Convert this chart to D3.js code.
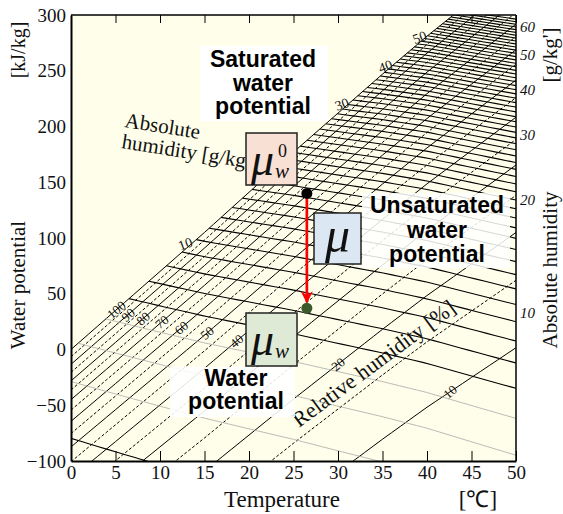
<!DOCTYPE html>
<html>
<head>
<meta charset="utf-8">
<script src="https://cdn.jsdelivr.net/npm/d3@7"></script>
<style>
  body { margin: 0; background: #fff; }
  svg { font-family: "Liberation Serif", "Times New Roman", serif; }
  text { font-family: "Liberation Serif", "Times New Roman", serif; fill: #111; }
  .big { font-family: "Liberation Sans", Arial, sans-serif; font-weight: bold; font-size: 23px; fill: #000; }
</style>
</head>
<body>
<div id="chart"></div>
<script>
// axis ticks
const tempTicks = [0, 5, 10, 15, 20, 25, 30, 35, 40, 45, 50];
const potTicks = [-100, -50, 0, 50, 100, 150, 200, 250, 300];
const rightTicks = [10, 20, 30, 40, 50, 60];

// saturation (100%) curve: temperature [C] -> water potential [kJ/kg]
const satTemps = [0, 5, 10, 15, 20, 25, 30, 35, 40, 45, 50];
const satPots = [0, 35, 70, 105, 141, 177, 212, 247, 281, 313, 345];

// relative humidity lines [%]
const rhLevels = [100, 95, 90, 85, 80, 75, 70, 65, 60, 55, 50, 45, 40, 35, 30, 25, 20, 15, 10];
const rhLabelVals = [100, 90, 80, 70, 60, 50, 40, 20, 10];
const rhLabelTemps = [5.1, 6.4, 8.1, 10.2, 12.4, 15.3, 18.6, 30, 42.6];

// absolute humidity lines [g/kg]
const ahLevels = [2, 3, 4, 5, 6, 7, 8, 9, 10, 11, 12, 13, 14, 15, 16, 17, 18, 19, 20,
  21, 22, 23, 24, 25, 26, 27, 28, 29, 30, 31, 32, 33, 34, 35, 36, 37, 38, 39, 40,
  41, 42, 43, 44, 45, 46, 47, 48, 49, 50, 51, 52, 53, 54, 55, 56, 57, 58, 59, 60];
const ahGrey = [3, 4, 5];
const ahLabelVals = [10, 20, 30, 40, 50];

// the two states marked on the chart
const stateTemps = [26.5, 26.5];
const statePots = [140, 37];

let margin = {top: 15, right: 47, bottom: 53, left: 71},
  width = 563 - margin.left - margin.right,
  height = 514 - margin.top - margin.bottom;

var svg = d3.select("#chart").append("svg")
  .attr("width", 563)
  .attr("height", 514);

var x = d3.scaleLinear().domain([0, 50]).range([margin.left, margin.left + width]);
var y = d3.scaleLinear().domain([-100, 300]).range([margin.top + height, margin.top]);

// psychrometrics used to lay the iso-lines into the chart's coordinates
var satPot = d3.scaleLinear().domain(satTemps).range(satPots);
function psat(t) { return 0.61094 * Math.exp(17.625 * t / (t + 243.04)); }
function pvOf(g) { var w = g / 1000; return w * 101.325 / (0.622 + w); }
function dewT(g) { var a = Math.log(pvOf(g) / 0.61094); return 243.04 * a / (17.625 - a); }
function pot(t, pv) { return satPot(t) + 0.4615 * (t + 273.15) * Math.log(pv / psat(t)); }
function rhPot(t, r) { return satPot(t) + 0.4615 * (t + 273.15) * Math.log(r / 100); }

var line = d3.line().x(d => x(d[0])).y(d => y(d[1]));

var defs = svg.append("defs");
defs.append("clipPath").attr("id", "clip")
  .append("rect")
  .attr("x", margin.left).attr("y", margin.top)
  .attr("width", width).attr("height", height);

svg.append("rect")
  .attr("x", margin.left).attr("y", margin.top)
  .attr("width", width).attr("height", height)
  .attr("fill", "#fffeea");

var plot = svg.append("g").attr("clip-path", "url(#clip)");

// RH lines
plot.selectAll(".rh")
  .data(rhLevels).enter()
  .append("path")
  .attr("d", r => line(d3.range(0, 50.01, 1).map(t => [t, rhPot(t, r)])))
  .attr("fill", "none")
  .attr("stroke", "#000")
  .attr("stroke-width", 1)
  .attr("stroke-dasharray", r => r % 10 == 0 ? null : "3,2");

// absolute humidity lines, from the dew point to 50 C
plot.selectAll(".ah")
  .data(ahLevels).enter()
  .append("path")
  .attr("d", function(g) {
    var t0 = Math.max(0, dewT(g));
    var pts = d3.range(t0, 50.01, 1).map(t => [t, pot(t, pvOf(g))]);
    pts.push([50, pot(50, pvOf(g))]);
    return line(pts);
  })
  .attr("fill", "none")
  .attr("stroke", g => ahGrey.indexOf(g) >= 0 ? "#aaa" : "#000")
  .attr("stroke-width", g => ahGrey.indexOf(g) >= 0 ? 0.8 : 1.1);

// RH labels
plot.selectAll(".rhl")
  .data(rhLabelVals).enter()
  .append("text")
  .attr("transform", (r, i) => "translate(" + x(rhLabelTemps[i]) + "," + y(rhPot(rhLabelTemps[i], r)) + ") rotate(-40)")
  .attr("text-anchor", "middle")
  .attr("dy", "0.35em")
  .style("font-size", "13px")
  .text(d => d);

// abs humidity labels at the dew point
plot.selectAll(".ahl")
  .data(ahLabelVals).enter()
  .append("text")
  .attr("transform", function(g) {
    var t = dewT(g);
    return "translate(" + (x(t) - 11) + "," + (y(satPot(t)) + 4) + ") rotate(-20)";
  })
  .attr("text-anchor", "middle")
  .attr("dy", "0.35em")
  .style("font-size", "14px")
  .text(d => d);

// frame
svg.append("line").attr("x1", x(0)).attr("x2", x(50)).attr("y1", y(300)).attr("y2", y(300)).attr("stroke", "#000").attr("stroke-width", 1.5);
svg.append("line").attr("x1", x(50)).attr("x2", x(50)).attr("y1", y(300)).attr("y2", y(-100)).attr("stroke", "#000").attr("stroke-width", 1.5);

// bottom axis
svg.append("g")
  .attr("transform", "translate(0," + y(-100) + ")")
  .call(d3.axisBottom(x).tickValues(tempTicks).tickSizeInner(-10).tickSizeOuter(0).tickPadding(5))
  .call(g => g.select(".domain").attr("stroke-width", 2))
  .call(g => g.selectAll("text").style("font-size", "19px").style("font-family", "'Liberation Serif'"));

// top ticks
svg.append("g")
  .attr("transform", "translate(0," + y(300) + ")")
  .call(d3.axisTop(x).tickValues(tempTicks).tickSizeInner(-8).tickSizeOuter(0).tickFormat(""))
  .call(g => g.select(".domain").remove());

// left axis
svg.append("g")
  .attr("transform", "translate(" + x(0) + ",0)")
  .call(d3.axisLeft(y).tickValues(potTicks).tickSize(0).tickPadding(5))
  .call(g => g.select(".domain").attr("stroke-width", 2))
  .call(g => g.selectAll("text").style("font-size", "19px").style("font-family", "'Liberation Serif'"));

// right axis: abs humidity where each line meets 50 C
svg.selectAll(".rt")
  .data(rightTicks).enter()
  .append("text")
  .attr("x", x(50) + 4)
  .attr("y", g => y(pot(50, pvOf(g))) + 8)
  .attr("dy", "0.35em")
  .style("font-size", "15px")
  .style("font-style", "italic")
  .text(d => d);

// axis titles
svg.append("text").attr("transform", "translate(25,50) rotate(-90)")
  .attr("text-anchor", "middle").style("font-size", "20px").text("[kJ/kg]");
svg.append("text").attr("transform", "translate(25,285) rotate(-90)")
  .attr("text-anchor", "middle").style("font-size", "21px").text("Water potential");
svg.append("text").attr("x", 282).attr("y", 507)
  .attr("text-anchor", "middle").style("font-size", "23px").text("Temperature");
svg.append("text").attr("x", 478).attr("y", 507)
  .attr("text-anchor", "middle").style("font-size", "23px").text("[℃]");
svg.append("text").attr("transform", "translate(557,55) rotate(-90)")
  .attr("text-anchor", "middle").style("font-size", "21px").text("[g/kg']");
svg.append("text").attr("transform", "translate(557,270) rotate(-90)")
  .attr("text-anchor", "middle").style("font-size", "21px").text("Absolute humidity");

// in-plot notes
svg.append("text").attr("transform", "translate(124,127) rotate(9)")
  .style("font-size", "21px").text("Absolute");
svg.append("text").attr("transform", "translate(121,148) rotate(9)")
  .style("font-size", "21px").text("humidity [g/kg]");
svg.append("text").attr("transform", "translate(299,428) rotate(-36.5)")
  .style("font-size", "22px").text("Relative humidity [%]");

// white note boxes
function note(lines, cx, y0, step, box, op) {
  svg.append("rect").attr("x", box[0]).attr("y", box[1]).attr("width", box[2]).attr("height", box[3])
    .attr("fill", "#fff").attr("opacity", op);
  svg.append("text").attr("class", "big").attr("text-anchor", "middle")
    .selectAll("tspan").data(lines).enter().append("tspan")
    .attr("x", cx).attr("y", (d, i) => y0 + i * step).text(d => d);
}
note(["Saturated", "water", "potential"], 263, 67, 23.5, [200, 46, 128, 75], 1);
note(["Unsaturated", "water", "potential"], 437, 213, 24.5, [362, 193, 148, 75], 0.85);
note(["Water", "potential"], 236, 386, 23, [170, 367, 125, 50], 0.88);

// arrow between the states
defs.append("marker")
  .attr("id", "arr").attr("viewBox", "0 0 10 10").attr("refX", 9).attr("refY", 5)
  .attr("markerWidth", 4.5).attr("markerHeight", 5).attr("orient", "auto")
  .append("path").attr("d", "M0,0 L10,5 L0,10 L3,5 z").attr("fill", "#f00");
svg.append("line")
  .attr("x1", x(stateTemps[0])).attr("y1", y(statePots[0]))
  .attr("x2", x(stateTemps[1])).attr("y2", y(statePots[1]) - 6)
  .attr("stroke", "#f00").attr("stroke-width", 2.7).attr("marker-end", "url(#arr)");
svg.selectAll(".st")
  .data(stateTemps).enter()
  .append("circle")
  .attr("cx", d => x(d)).attr("cy", (d, i) => y(statePots[i]))
  .attr("r", 5.5)
  .attr("fill", (d, i) => i == 0 ? "#000" : "#3b5a2b");

// mu boxes
function muBox(bx, by, w, h, fill, sub, sup, fs) {
  svg.append("rect").attr("x", bx).attr("y", by).attr("width", w).attr("height", h)
    .attr("fill", fill).attr("stroke", "#222").attr("stroke-width", 1.5);
  svg.append("text").attr("x", sub ? bx + 5 : bx + w / 2).attr("y", by + (sub ? 42 : 39))
    .attr("text-anchor", sub ? "start" : "middle")
    .style("font-size", fs + "px").style("font-style", "italic").text("μ");
  if (sub) svg.append("text").attr("x", bx + 29).attr("y", by + 45)
    .style("font-size", "21px").style("font-style", "italic").text(sub);
  if (sup) svg.append("text").attr("x", bx + 32).attr("y", by + 24)
    .style("font-size", "18px").text(sup);
}
muBox(246, 133, 51, 52, "#f8e0d4", "w", "0", 46);
muBox(314, 213, 47, 51, "#dce7f4", null, null, 50);
muBox(246, 313, 51, 53, "#dfead6", "w", null, 46);
</script>
</body>
</html>
